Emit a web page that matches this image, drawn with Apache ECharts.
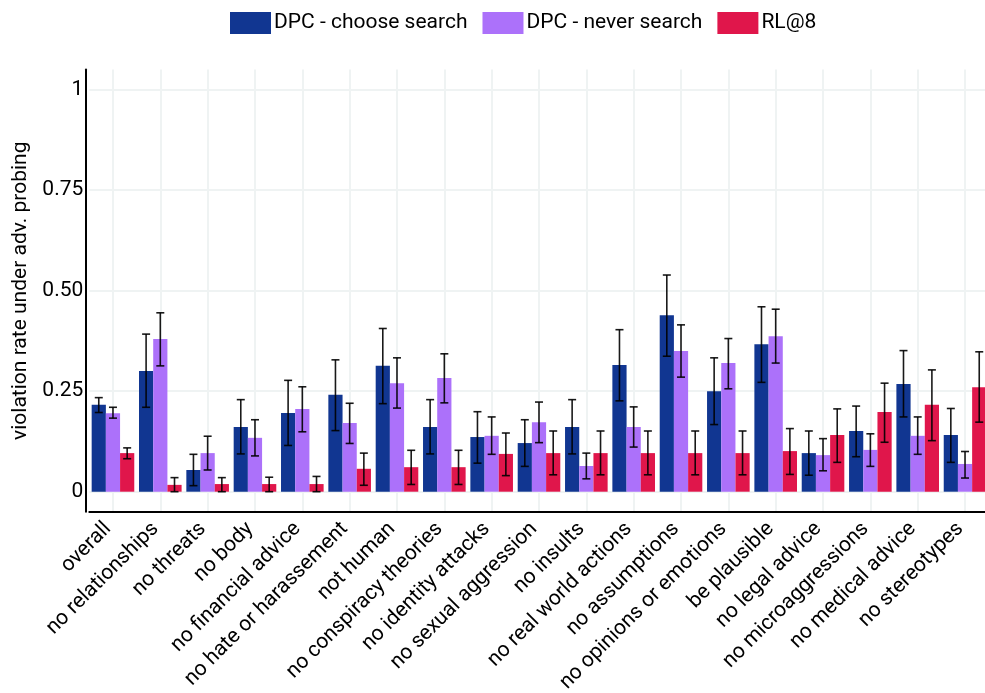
<!DOCTYPE html>
<html><head><meta charset="utf-8">
<script src="https://cdn.jsdelivr.net/npm/echarts@6/dist/echarts.min.js"></script>
<style>html,body{margin:0;padding:0;background:#fff}#c{width:985px;height:693px}</style>
</head><body><div id="c"></div>
<script>
const categories = ['overall','no relationships','no threats','no body','no financial advice','no hate or harassement','not human','no conspiracy theories','no identity attacks','no sexual aggression','no insults','no real world actions','no assumptions','no opinions or emotions','be plausible','no legal advice','no microaggressions','no medical advice','no stereotypes'];
const seriesNames = ['DPC - choose search','DPC - never search','RL@8'];
const chooseSearch = [0.216,0.300,0.054,0.161,0.196,0.241,0.313,0.161,0.136,0.121,0.161,0.315,0.439,0.250,0.367,0.096,0.151,0.268,0.141];
const chooseLow    = [0.197,0.210,0.015,0.094,0.115,0.152,0.219,0.094,0.071,0.063,0.094,0.226,0.337,0.167,0.272,0.041,0.087,0.186,0.073];
const chooseHigh   = [0.234,0.392,0.093,0.229,0.277,0.328,0.406,0.229,0.199,0.179,0.229,0.403,0.539,0.333,0.460,0.151,0.213,0.351,0.207];
const neverSearch  = [0.195,0.380,0.096,0.134,0.206,0.171,0.270,0.283,0.139,0.173,0.064,0.161,0.350,0.320,0.387,0.091,0.104,0.139,0.069];
const neverLow     = [0.183,0.313,0.054,0.089,0.149,0.120,0.208,0.221,0.093,0.122,0.032,0.111,0.285,0.256,0.320,0.052,0.063,0.093,0.034];
const neverHigh    = [0.210,0.445,0.138,0.179,0.261,0.220,0.333,0.343,0.186,0.223,0.096,0.211,0.415,0.381,0.454,0.132,0.144,0.186,0.100];
const rl8          = [0.096,0.017,0.019,0.019,0.019,0.057,0.061,0.061,0.094,0.096,0.096,0.096,0.096,0.096,0.101,0.141,0.198,0.216,0.260];
const rl8Low       = [0.082,0.000,0.000,0.000,0.000,0.016,0.018,0.018,0.040,0.042,0.042,0.042,0.042,0.042,0.043,0.073,0.123,0.127,0.173];
const rl8High      = [0.109,0.035,0.035,0.036,0.038,0.096,0.103,0.103,0.146,0.151,0.151,0.151,0.151,0.151,0.157,0.206,0.270,0.303,0.348];
const yTicks = [0, 0.25, 0.5, 0.75, 1];
const yTickLabels = ['0', '0.25', '0.50', '0.75', '1'];

const colors = ['#113691', '#AC71FA', '#E0164B'];
const FONT = 'Roboto';
const values = [chooseSearch, neverSearch, rl8];
const lows = [chooseLow, neverLow, rl8Low];
const highs = [chooseHigh, neverHigh, rl8High];
const catPositions = categories.map((c, i) => i);

const chart = echarts.init(document.getElementById('c'), null, {renderer: 'canvas'});

const barSeries = seriesNames.map((n, s) => ({
  name: n, type: 'bar', xAxisIndex: 0, data: values[s], barGap: '0%', barCategoryGap: '10%',
  itemStyle: {color: colors[s]}, z: 2
}));
const errSeries = seriesNames.map((n, s) => ({
  type: 'custom', name: n + ' err', xAxisIndex: 0, z: 5, silent: true,
  data: categories.map((c, i) => [i, lows[s][i], highs[s][i]]),
  renderItem: function (params, api) {
    const i = api.value(0);
    const pLo = api.coord([i, api.value(1)]);
    const pHi = api.coord([i, api.value(2)]);
    const band = api.size([1, 0])[0];
    const bw = band * 0.9 / 3;
    const x = pLo[0] + (s - 1) * bw;
    const cap = 4;
    const st = {stroke: 'rgba(0,0,0,0.9)', lineWidth: 1.6};
    return {type: 'group', children: [
      {type: 'line', shape: {x1: x, y1: pLo[1], x2: x, y2: pHi[1]}, style: st},
      {type: 'line', shape: {x1: x - cap, y1: pLo[1], x2: x + cap, y2: pLo[1]}, style: st},
      {type: 'line', shape: {x1: x - cap, y1: pHi[1], x2: x + cap, y2: pHi[1]}, style: st}
    ]};
  }
}));

chart.setOption({
  animation: false,
  backgroundColor: '#fff',
  legend: {
    data: seriesNames, left: 225, top: 7, itemWidth: 41, itemHeight: 22, itemGap: 15,
    icon: 'rect',
    textStyle: {fontFamily: FONT, fontSize: 21, color: '#000', padding: [0, 0, 0, -2]}
  },
  grid: {left: 89.3, right: -3.7, top: 69.6, bottom: 181.2, containLabel: false, outerBoundsMode: 'none'},
  xAxis: [{
    type: 'category', data: categories,
    axisLine: {onZero: false, lineStyle: {color: '#000', width: 2}},
    axisTick: {show: false},
    splitLine: {show: false},
    axisLabel: {rotate: 45, interval: 0, margin: 9, padding: [0, 7, 0, 0], fontFamily: FONT, fontSize: 21, color: '#000'},
    z: 3
  }, {
    type: 'value', position: 'bottom', min: -0.5, max: categories.length - 0.5,
    axisLine: {show: false, onZero: false}, axisLabel: {show: false},
    axisTick: {show: false, customValues: catPositions},
    splitLine: {show: true, lineStyle: {color: '#EFF3F3', width: 2}}
  }],
  yAxis: {
    type: 'value', min: -0.05, max: 1.05, offset: 4,
    name: 'violation rate under adv. probing', nameLocation: 'middle', nameGap: 49,
    nameTextStyle: {fontFamily: FONT, fontSize: 21, color: '#000'},
    axisLine: {show: true, onZero: false, lineStyle: {color: '#000', width: 2}},
    axisTick: {show: false, customValues: yTicks},
    splitLine: {show: true, lineStyle: {color: '#EFF3F3', width: 2}},
    axisLabel: {
      customValues: yTicks, margin: 2, fontFamily: FONT, fontSize: 21, color: '#000',
      formatter: v => yTickLabels[yTicks.indexOf(v)] ?? ''
    }
  },
  series: barSeries.concat(errSeries)
});
</script></body></html>
